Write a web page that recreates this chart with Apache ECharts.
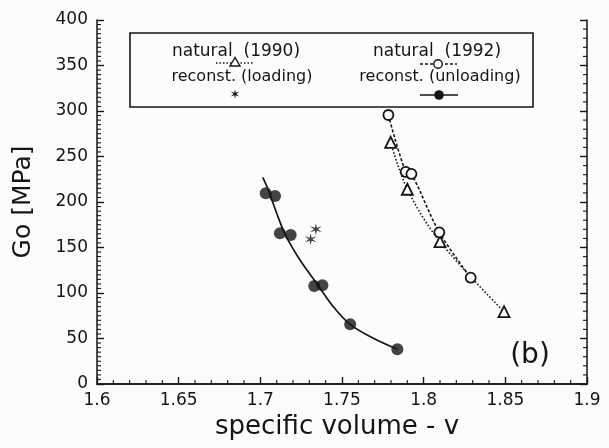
<!DOCTYPE html>
<html>
<head>
<meta charset="utf-8">
<script src="https://cdn.jsdelivr.net/npm/echarts@6/dist/echarts.min.js"></script>
<style>html,body{margin:0;padding:0;background:#fcfcfc;}#c{width:609px;height:448px;}</style>
</head>
<body>
<div id="c"></div>
<script>
// Data
var natural1990 = [[1.7798, 265.6], [1.790, 214], [1.810, 156.4], [1.8492, 79.5]];
var natural1992 = [[1.7784, 295.6], [1.789, 233], [1.7925, 230.8], [1.8096, 166.7], [1.8288, 116.8]];
var reconstLoading = [[1.734, 170], [1.7308, 159]];
var reconstUnloading = [[1.7033, 209.6], [1.709, 206.6], [1.712, 165.6], [1.7186, 163.7], [1.733, 107.7], [1.738, 108.4], [1.755, 65.6], [1.7839, 38.1]];
var unloadingFit = [[1.7015, 227.1], [1.7049, 213.2], [1.7100, 187.6], [1.7151, 164.8], [1.7243, 136.3], [1.7355, 108.0], [1.7447, 84.9], [1.7549, 65.6], [1.7692, 50.2], [1.7839, 38.1]];
var xTicks = [1.6, 1.65, 1.7, 1.75, 1.8, 1.85, 1.9];
var yTicks = [0, 50, 100, 150, 200, 250, 300, 350, 400];

var FONT = '"DejaVu Sans", Verdana, sans-serif';
var INK = '#151515';
var BG = '#fcfcfc';
var starPath = 'path://M0,-10L1.4,-2.4L8.66,-5L2.8,0L8.66,5L1.4,2.4L0,10L-1.4,2.4L-8.66,5L-2.8,0L-8.66,-5L-1.4,-2.4Z';
var XMIN = xTicks[0], XMAX = xTicks[xTicks.length - 1];
var YMIN = yTicks[0], YMAX = yTicks[yTicks.length - 1];

// minor tick positions (axis decoration)
var xMinor = [], yMinorL = [], yMinorR = [];
for (var i = 1; i < 30; i++) { if (i % 5) xMinor.push([+(XMIN + i * 0.01).toFixed(2), YMIN]); }
for (var j = 1; j < 80; j++) { if (j % 10) yMinorL.push([XMIN, j * 5]); }
for (var k = 1; k < 40; k++) { if (k % 5) yMinorR.push([XMAX, k * 10]); }

function starPoints(cx, cy, s) {
  var base = [[0,-10],[1.4,-2.4],[8.66,-5],[2.8,0],[8.66,5],[1.4,2.4],[0,10],[-1.4,2.4],[-8.66,5],[-2.8,0],[-8.66,-5],[-1.4,-2.4]];
  return base.map(function(p){ return [cx + p[0]*s, cy + p[1]*s]; });
}
function label(text, x, y, size) {
  return {type: 'text', z: 11, style: {text: text, x: x, y: y, font: size + 'px ' + FONT, fill: INK,
    align: 'center', verticalAlign: 'middle', textAlign: 'center', textVerticalAlign: 'middle'}};
}
function tickSeries(data, dx, dy) {
  return {
    type: 'custom', coordinateSystem: 'cartesian2d', data: data, silent: true, clip: false, z: 5,
    renderItem: function(params, api) {
      var p = api.coord([api.value(0), api.value(1)]);
      return {type: 'line', shape: {x1: p[0], y1: p[1], x2: p[0] + dx, y2: p[1] + dy},
        style: {stroke: INK, lineWidth: 1.1}};
    }
  };
}

var chart = echarts.init(document.getElementById('c'), null, {renderer: 'canvas'});
var majorTick = {show: true, inside: true, length: 7, lineStyle: {color: INK, width: 1.4}};
chart.setOption({
  backgroundColor: BG,
  animation: false,
  grid: {left: 97, right: 22, top: 20, bottom: 64, containLabel: false},
  xAxis: [
    {
      type: 'value', min: XMIN, max: XMAX, interval: 0.05, position: 'bottom',
      axisLine: {lineStyle: {color: INK, width: 1.5}}, splitLine: {show: false},
      name: 'specific volume - v', nameLocation: 'middle', nameGap: 30,
      nameTextStyle: {fontFamily: FONT, fontSize: 26, color: INK, padding: [0, 10, 0, 0]},
      axisTick: majorTick,
      axisLabel: {fontFamily: FONT, fontSize: 17, color: INK, margin: 8, formatter: function(v){ return String(+v.toFixed(2)); }}
    },
    {
      type: 'value', min: XMIN, max: XMAX, interval: 0.05, position: 'top',
      axisLine: {lineStyle: {color: INK, width: 1.5}}, splitLine: {show: false},
      axisTick: {show: false}, axisLabel: {show: false}
    }
  ],
  yAxis: [
    {
      type: 'value', min: YMIN, max: YMAX, interval: 50, position: 'left',
      axisLine: {lineStyle: {color: INK, width: 1.5}}, splitLine: {show: false},
      name: 'Go [MPa]', nameLocation: 'middle', nameGap: 61, nameRotate: 90,
      nameTextStyle: {fontFamily: FONT, fontSize: 25, color: INK},
      axisTick: majorTick,
      axisLabel: {fontFamily: FONT, fontSize: 17, color: INK, margin: 9}
    },
    {
      type: 'value', min: YMIN, max: YMAX, interval: 50, position: 'right',
      axisLine: {lineStyle: {color: INK, width: 1.5}}, splitLine: {show: false},
      axisTick: majorTick, axisLabel: {show: false}
    }
  ],
  series: [
    tickSeries(xMinor, 0, -4),
    tickSeries(yMinorL, 4, 0),
    tickSeries(yMinorR, -4, 0),
    {
      name: 'natural (1990)', type: 'line', data: natural1990, smooth: 0.35,
      symbol: 'triangle', symbolSize: 11, showAllSymbol: true,
      lineStyle: {color: INK, width: 1.6, type: [1.5, 2]},
      itemStyle: {color: BG, borderColor: INK, borderWidth: 1.8}, z: 3
    },
    {
      name: 'natural (1992)', type: 'line', data: natural1992, smooth: 0.35,
      symbol: 'circle', symbolSize: 10, showAllSymbol: true,
      lineStyle: {color: INK, width: 1.6, type: [3, 2]},
      itemStyle: {color: BG, borderColor: INK, borderWidth: 1.8}, z: 3
    },
    {
      name: 'reconst. (loading)', type: 'scatter', data: reconstLoading,
      symbol: starPath, symbolSize: 12,
      itemStyle: {color: INK}, z: 4
    },
    {
      name: 'fit', type: 'line', data: unloadingFit, smooth: 0.3, symbol: 'none',
      lineStyle: {color: INK, width: 1.7}, z: 2
    },
    {
      name: 'reconst. (unloading)', type: 'scatter', data: reconstUnloading,
      symbol: 'circle', symbolSize: 12,
      itemStyle: {color: INK}, z: 4
    }
  ],
  graphic: [
    {type: 'rect', shape: {x: 130, y: 33, width: 403, height: 74}, style: {fill: BG, stroke: INK, lineWidth: 1.6}, z: 10},
    label('natural  (1990)', 236, 52, 17),
    {type: 'line', shape: {x1: 216, y1: 63, x2: 254, y2: 63}, style: {stroke: INK, lineWidth: 1.3, lineDash: [1.5, 2]}, z: 11},
    {type: 'polygon', shape: {points: [[235, 57.5], [230, 66], [240, 66]]}, style: {fill: BG, stroke: INK, lineWidth: 1.4}, z: 12},
    label('natural  (1992)', 437, 52, 17),
    {type: 'line', shape: {x1: 420, y1: 64, x2: 457, y2: 64}, style: {stroke: INK, lineWidth: 1.3, lineDash: [3, 2]}, z: 11},
    {type: 'circle', shape: {cx: 438, cy: 64, r: 4.2}, style: {fill: BG, stroke: INK, lineWidth: 1.4}, z: 12},
    label('reconst. (loading)', 242, 77, 16),
    {type: 'polygon', shape: {points: starPoints(235, 94, 0.5)}, style: {fill: INK}, z: 12},
    label('reconst. (unloading)', 440, 77, 16),
    {type: 'line', shape: {x1: 420, y1: 95, x2: 458, y2: 95}, style: {stroke: INK, lineWidth: 1.5}, z: 11},
    {type: 'circle', shape: {cx: 439, cy: 95, r: 4.8}, style: {fill: INK}, z: 12},
    label('(b)', 530, 356, 28)
  ]
});
</script>
</body>
</html>
